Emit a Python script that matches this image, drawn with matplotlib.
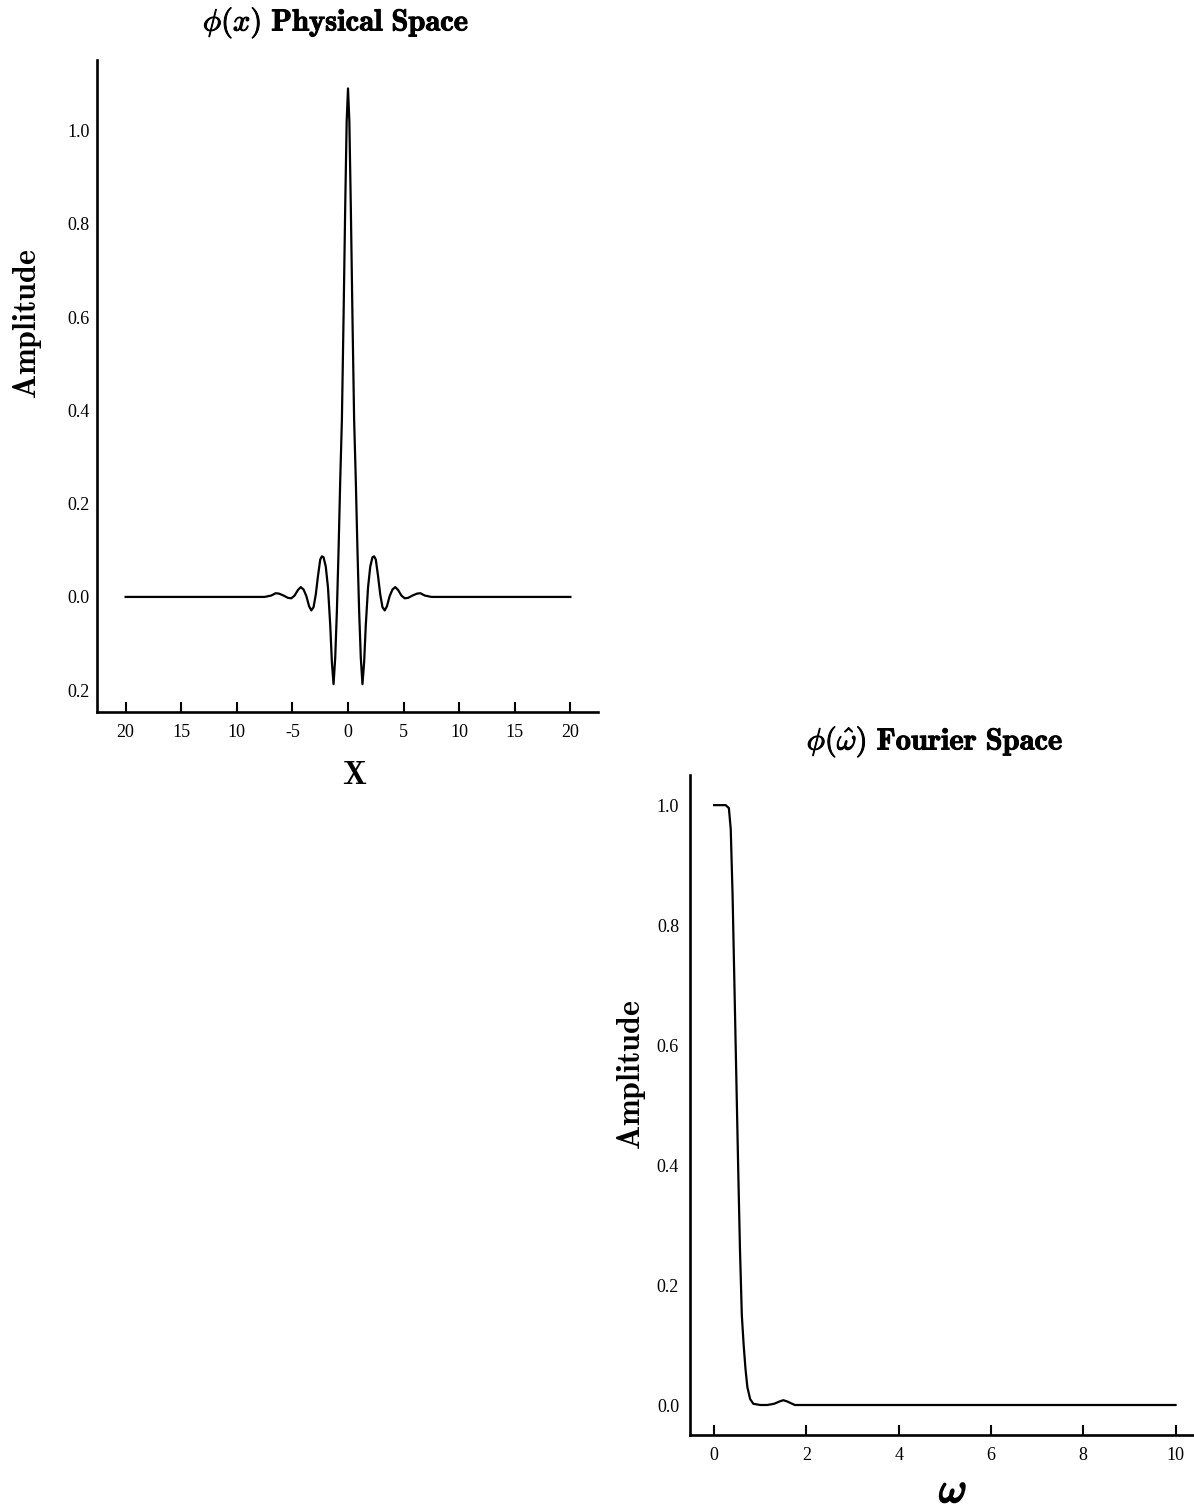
import matplotlib
matplotlib.use("Agg")
import matplotlib.pyplot as plt
import matplotlib.patheffects as pe

plt.rcParams["mathtext.fontset"] = "cm"

# phi(x), physical space
x_phys = [-20, -15, -10, -7.5, -6.9, -6.5, -6.2, -5.8, -5.4, -5.1, -4.8, -4.5,
          -4.25, -4.0, -3.75, -3.5, -3.3, -3.1, -2.9, -2.7, -2.5, -2.35, -2.2,
          -2.0, -1.8, -1.6, -1.45, -1.3, -1.15, -1.0, -0.85, -0.7, -0.55, -0.4,
          -0.25, -0.12, 0.0, 0.12, 0.25, 0.4, 0.55, 0.7, 0.85, 1.0, 1.15, 1.3,
          1.45, 1.6, 1.8, 2.0, 2.2, 2.35, 2.5, 2.7, 2.9, 3.1, 3.3, 3.5, 3.75,
          4.0, 4.25, 4.5, 4.8, 5.1, 5.4, 5.8, 6.2, 6.5, 6.9, 7.5, 10, 15, 20]
amp_phys = [0.0, 0.0, 0.0, 0.0, 0.003, 0.008, 0.007, 0.003, -0.002, -0.003, 0.003, 0.015,
            0.021, 0.016, 0.002, -0.02, -0.029, -0.022, 0.005, 0.045, 0.08, 0.087, 0.085,
            0.065, 0.02, -0.06, -0.14, -0.187, -0.13, -0.03, 0.1, 0.25, 0.38, 0.6,
            0.84, 1.02, 1.09, 1.02, 0.84, 0.6, 0.38, 0.25, 0.1, -0.03, -0.13, -0.187,
            -0.14, -0.06, 0.02, 0.065, 0.085, 0.087, 0.08, 0.045, 0.005, -0.022, -0.029, -0.02, 0.002,
            0.016, 0.021, 0.015, 0.003, -0.003, -0.002, 0.003, 0.007, 0.008, 0.003, 0.0, 0.0, 0.0, 0.0]

# phi-hat(omega), Fourier space
w_four = [0.0, 0.25, 0.32, 0.36, 0.40, 0.44, 0.48, 0.52, 0.56, 0.60, 0.64, 0.68,
          0.72, 0.78, 0.85, 1.0, 1.15, 1.3, 1.42, 1.5, 1.58, 1.75, 10.0]
amp_four = [1.0, 1.0, 0.995, 0.96, 0.85, 0.70, 0.55, 0.40, 0.26, 0.15, 0.10, 0.06,
            0.03, 0.01, 0.002, 0.0, 0.0, 0.002, 0.006, 0.008, 0.006, 0.0, 0.0]

x_ticks = [-20, -15, -10, -5, 0, 5, 10, 15, 20]
x_ticklabels = ["20", "15", "10", "-5", "0", "5", "10", "15", "20"]
y_ticks_phys = [-0.2, 0.0, 0.2, 0.4, 0.6, 0.8, 1.0]
y_ticklabels_phys = ["0.2", "0.0", "0.2", "0.4", "0.6", "0.8", "1.0"]
w_ticks = [0, 2, 4, 6, 8, 10]
y_ticks_four = [0.0, 0.2, 0.4, 0.6, 0.8, 1.0]
y_ticklabels_four = ["0.0", "0.2", "0.4", "0.6", "0.8", "1.0"]

tick_font = {"family": "Liberation Serif", "size": 13}
heavy = [pe.withStroke(linewidth=0.7, foreground="black")]


def style_axes(ax, ypad):
    for s in ("top", "right"):
        ax.spines[s].set_visible(False)
    for s in ("left", "bottom"):
        ax.spines[s].set_linewidth(1.9)
    ax.tick_params(axis="x", direction="in", length=7, width=1.5, pad=9)
    ax.tick_params(axis="y", direction="in", length=0, pad=ypad)


fig = plt.figure(figsize=(11.94, 15.11), dpi=100)

ax1 = fig.add_axes([0.081, 0.529, 0.420, 0.431])
ax1.plot(x_phys, amp_phys, color="black", lw=1.6)
ax1.set_xlim(-22.6, 22.5)
ax1.set_ylim(-0.246, 1.15)
style_axes(ax1, 5)
ax1.set_xticks(x_ticks)
ax1.set_xticklabels(x_ticklabels, fontdict=tick_font)
ax1.set_yticks(y_ticks_phys)
ax1.set_yticklabels(y_ticklabels_phys, fontdict=tick_font)

ax2 = fig.add_axes([0.578, 0.0503, 0.422, 0.4367])
ax2.plot(w_four, amp_four, color="black", lw=1.6)
ax2.set_xlim(-0.52, 10.4)
ax2.set_ylim(-0.05, 1.05)
style_axes(ax2, 8)
ax2.set_xticks(w_ticks)
ax2.set_xticklabels([str(t) for t in w_ticks], fontdict=tick_font)
ax2.set_yticks(y_ticks_four)
ax2.set_yticklabels(y_ticklabels_four, fontdict=tick_font)

# titles and axis labels
fig.text(336 / 1194, 1 - 23 / 1511, r"$\phi(x)\ \mathbf{Physical\ Space}$",
         ha="center", va="center", fontsize=22, path_effects=heavy)
fig.text(27 / 1194, 1 - 324 / 1511, r"$\mathbf{Amplitude}$", rotation=90,
         ha="center", va="center", fontsize=23)
fig.text(355 / 1194, 1 - 776 / 1511, r"$\mathbf{X}$",
         ha="center", va="center", fontsize=23)

fig.text(935 / 1194, 1 - 742 / 1511, r"$\phi(\hat{\omega})\ \mathbf{Fourier\ Space}$",
         ha="center", va="center", fontsize=22, path_effects=heavy)
fig.text(632 / 1194, 1 - 1075 / 1511, r"$\mathbf{Amplitude}$", rotation=90,
         ha="center", va="center", fontsize=23)
fig.text(953 / 1194, 1 - 1490 / 1511, r"$\omega$", ha="center", va="center",
         fontsize=30, path_effects=[pe.withStroke(linewidth=1.6, foreground="black")])

fig.savefig("out.png", dpi=100)
